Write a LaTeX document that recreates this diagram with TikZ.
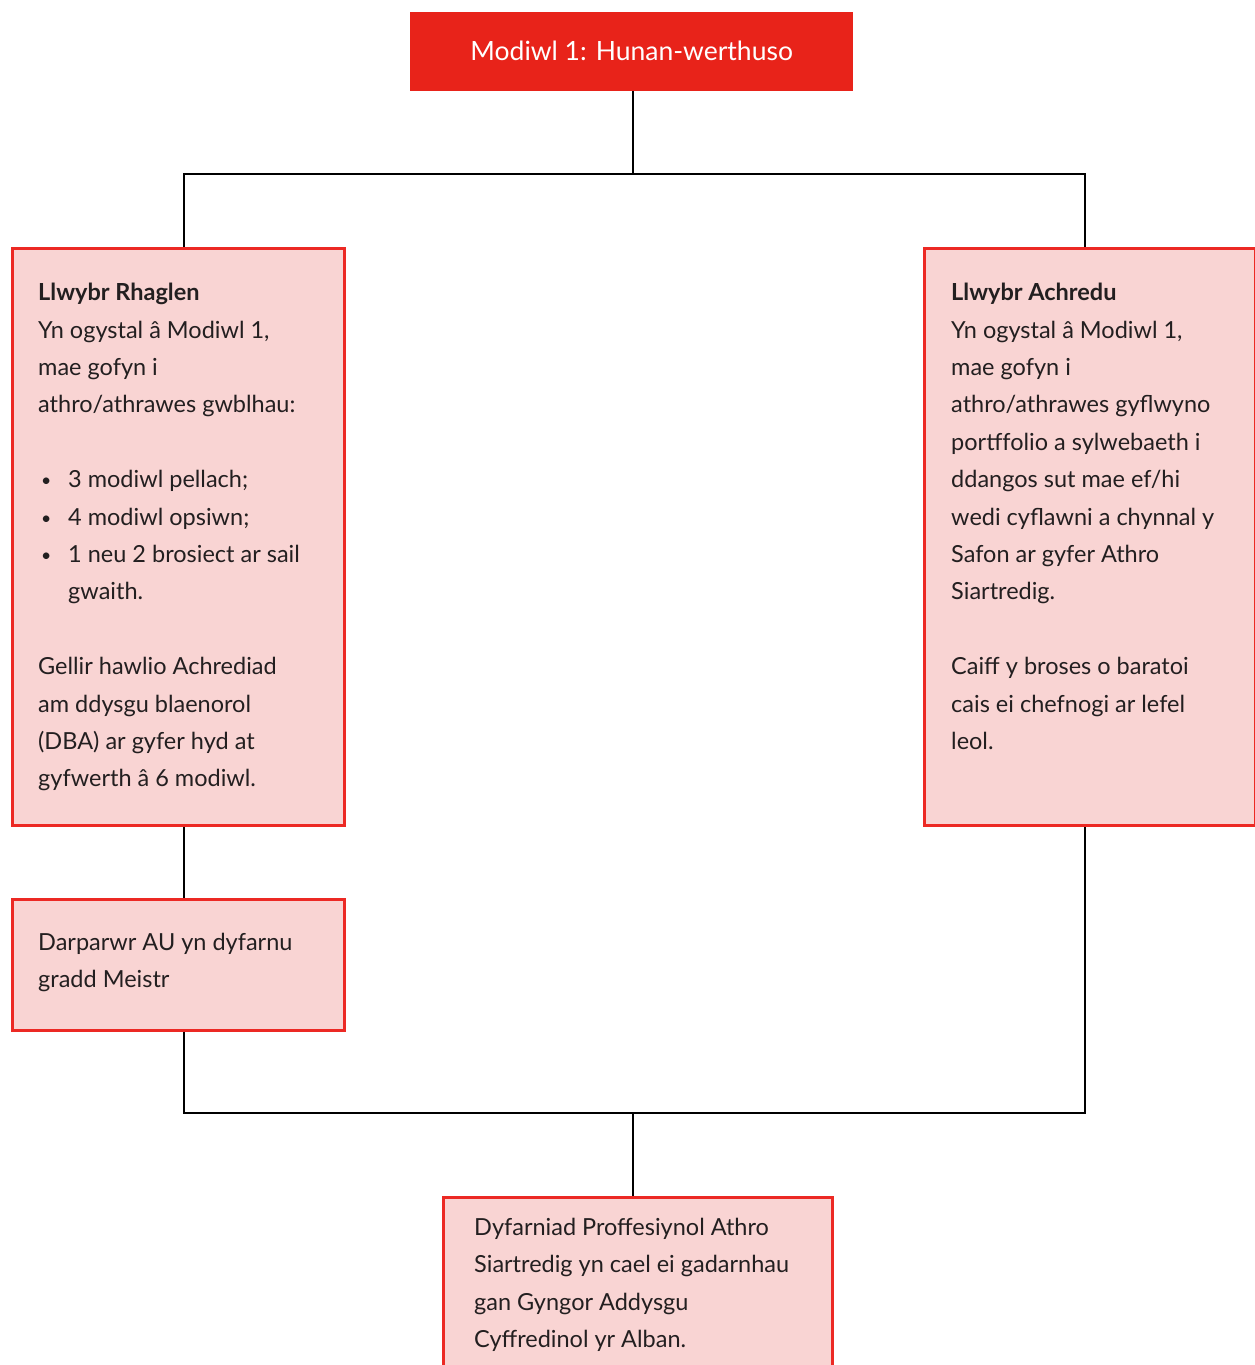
\documentclass[tikz,border=0pt]{standalone}
\usepackage{fontspec}
\setmainfont{Lato}
\usepackage{tikz}
\usetikzlibrary{calc}

\definecolor{modred}{RGB}{232,35,26}
\definecolor{boxred}{RGB}{236,41,36}
\definecolor{boxpink}{RGB}{249,212,211}
\definecolor{inkgrey}{RGB}{35,31,32}

\tikzset{
  pinkbox/.style={draw=boxred,fill=boxpink,line width=2.5pt,inner sep=0pt,anchor=north west},
  boxtext/.style={inner sep=0pt,anchor=north west,align=left,text=inkgrey,
    font=\fontsize{23.5}{37.4}\selectfont},
  link/.style={line width=2.8pt,black}
}
\newcommand{\bul}{\makebox[30pt][l]{\hspace*{3pt}\raisebox{1pt}{\scalebox{0.75}{\textbullet}}}}

\begin{document}
\begin{tikzpicture}[x=1pt,y=-1pt]
\useasboundingbox (0,0) rectangle (1255,1365);

\node[fill=modred,inner sep=0pt,minimum width=443,minimum height=79,anchor=north west,
  text=white,font=\fontsize{26.5}{30}\selectfont] (modiwl) at (410,12) {\raisebox{2pt}{Modiwl 1: Hunan-werthuso}};

\node[pinkbox,minimum width=332,minimum height=577] (rhaglen) at (11,247) {};
\node[pinkbox,minimum width=331,minimum height=577] (achredu) at (923,247) {};
\node[pinkbox,minimum width=332,minimum height=131] (meistr) at (11,898) {};
\node[pinkbox,minimum width=389,minimum height=200] (dyfarniad) at (442,1196) {};

\coordinate (split) at (633,174);
\coordinate (join) at (633,1113);
\coordinate (leftx) at (184,0);
\coordinate (rightx) at (1085,0);

\draw[link] (modiwl.south -| split) -- (split);
\draw[link] (rhaglen.north -| leftx) |- (split) -| (achredu.north -| rightx);
\draw[link] (rhaglen.south -| leftx) -- (meistr.north -| leftx);
\draw[link] (meistr.south -| leftx) |- (join) -| (achredu.south -| rightx);
\draw[link] (join) -- (dyfarniad.north -| join);

\node[boxtext] (rhaglentxt) at (38,283) {\textbf{Llwybr Rhaglen}\\
Yn ogystal â Modiwl 1,\\
mae gofyn i\\
athro/athrawes gwblhau:\\[37.4pt]
\bul 3 modiwl pellach;\\
\bul 4 modiwl opsiwn;\\
\bul 1 neu 2 brosiect ar sail\\
\hspace*{30pt}gwaith.\\[37.4pt]
Gellir hawlio Achrediad\\
am ddysgu blaenorol\\
(DBA) ar gyfer hyd at\\
gyfwerth â 6 modiwl.};

\node[boxtext] (achredutxt) at (951,283) {\textbf{Llwybr Achredu}\\
Yn ogystal â Modiwl 1,\\
mae gofyn i\\
athro/athrawes gyflwyno\\
portffolio a sylwebaeth i\\
ddangos sut mae ef/hi\\
wedi cyflawni a chynnal y\\
Safon ar gyfer Athro\\
Siartredig.\\[37.4pt]
Caiff y broses o baratoi\\
cais ei chefnogi ar lefel\\
leol.};

\node[boxtext] (meistrtxt) at (38,933) {Darparwr AU yn dyfarnu\\
gradd Meistr};

\node[boxtext] (dyfarniadtxt) at (474,1218) {Dyfarniad Proffesiynol Athro\\
Siartredig yn cael ei gadarnhau\\
gan Gyngor Addysgu\\
Cyffredinol yr Alban.};

\end{tikzpicture}
\end{document}
